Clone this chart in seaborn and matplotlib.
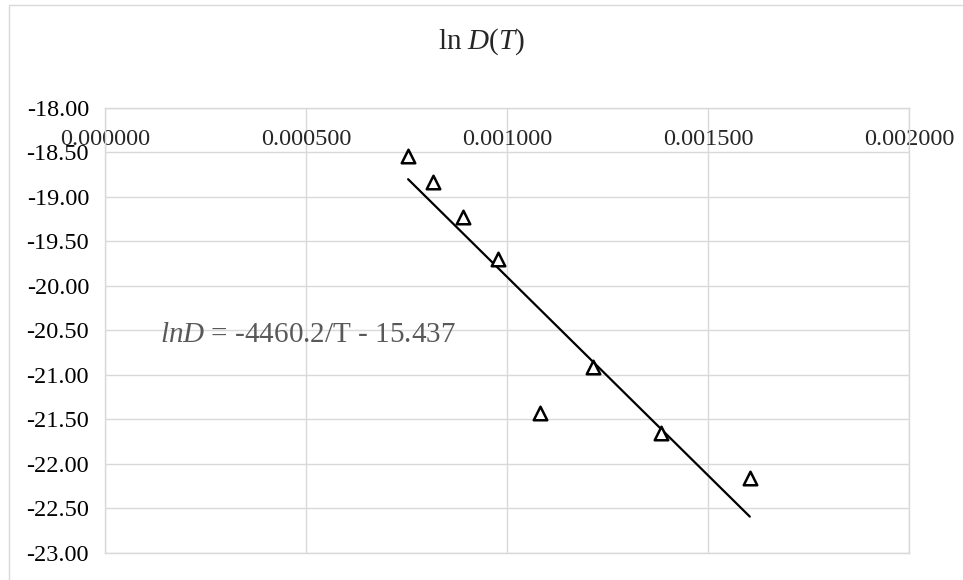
import matplotlib
matplotlib.use("Agg")
import matplotlib.pyplot as plt
import matplotlib.patches as mpatches
import numpy as np
import pandas as pd
import seaborn as sns

# Data (x = 1/T, y = ln D)
inv_t = [0.000754, 0.000816, 0.000891, 0.000978, 0.001082, 0.001214, 0.001383, 0.001604]
ln_d = [-18.54, -18.83, -19.22, -19.70, -21.43, -20.91, -21.65, -22.16]

# Trendline from the equation printed on the chart
slope = -4460.2
intercept = -15.437

x_ticks = [0.0, 0.0005, 0.0010, 0.0015, 0.0020]
y_ticks = [-18.0, -18.5, -19.0, -19.5, -20.0, -20.5, -21.0, -21.5, -22.0, -22.5, -23.0]

df = pd.DataFrame({"inv_t": inv_t, "ln_d": ln_d})
x_fit = np.array([min(inv_t), max(inv_t)])
df_fit = pd.DataFrame({"x": x_fit, "y": slope * x_fit + intercept})

sns.set_theme(style="white")
plt.rcParams["font.family"] = ["Liberation Serif", "DejaVu Serif"]
plt.rcParams["mathtext.fontset"] = "custom"
plt.rcParams["mathtext.rm"] = "Liberation Serif"
plt.rcParams["mathtext.it"] = "Liberation Serif:italic"

fig = plt.figure(figsize=(9.63, 5.80), dpi=100)
ax = fig.add_axes([105 / 963, 1 - 553 / 580, 804 / 963, 445 / 580])

# outer chart border (clipped at right/bottom like the reference)
fig.patches.append(mpatches.Rectangle((9 / 963, -0.1), 1.2, 1.1 - 5 / 580,
                                      transform=fig.transFigure, fill=False,
                                      edgecolor="#d9d9d9", linewidth=1.0))

sns.lineplot(data=df_fit, x="x", y="y", color="black", linewidth=1.6, ax=ax, zorder=3)
sns.scatterplot(data=df, x="inv_t", y="ln_d", marker="^", s=95, color="white",
                edgecolor="black", linewidth=1.8, ax=ax, zorder=4)

ax.set_xlim(0, 0.002)
ax.set_ylim(-23, -18)
ax.set_xticks(x_ticks)
ax.set_yticks(y_ticks)
ax.set_xticklabels([f"{v:.6f}" for v in x_ticks])
ax.set_yticklabels([f"{v:.2f}" for v in y_ticks])
ax.set_xlabel("")
ax.set_ylabel("")

ax.grid(True, color="#d9d9d9", linewidth=1.0)
for sp in ax.spines.values():
    sp.set_color("#d9d9d9")
    sp.set_linewidth(1.0)

ax.tick_params(axis="y", length=0, pad=11.5, labelsize=17.5, colors="#000000")
ax.tick_params(axis="x", length=0, bottom=False, top=False, labelbottom=False,
               labeltop=True, pad=-22.5, labelsize=17.5)
for t in ax.xaxis.get_major_ticks():
    t.label2.set_va("center")

fig.text(482 / 963, 1 - 42 / 580, r"ln $D$($T$)", ha="center", va="center", fontsize=21)
ax.text(160 / 963, 1 - 342 / 580, r"$lnD$ = -4460.2/T - 15.437", transform=fig.transFigure,
        ha="left", va="baseline", fontsize=21, color="#595959")

fig.savefig("out.png", dpi=100)
